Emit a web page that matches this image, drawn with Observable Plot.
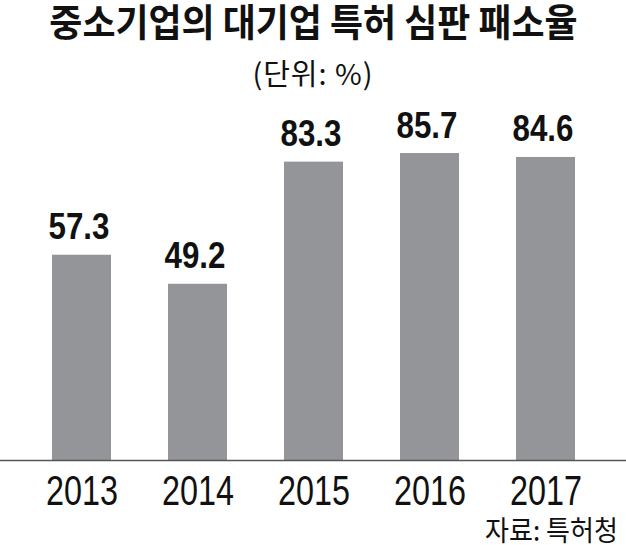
<!DOCTYPE html>
<html>
<head>
<meta charset="utf-8">
<script src="https://cdn.jsdelivr.net/npm/d3@7"></script>
<script src="https://cdn.jsdelivr.net/npm/@observablehq/plot@0.6"></script>
<style>
  html, body { margin: 0; padding: 0; background: #fff; }
  #wrap { position: relative; width: 626px; height: 545px; overflow: hidden; }
  .title { position: absolute; left: 0; top: -4px; width: 626px; height: 50px; text-align: center;
    font-family: "Noto Sans CJK KR", sans-serif; font-weight: 700; font-size: 38px; line-height: 48px; color: #111; white-space: nowrap; }
  .title span, .sub span, .cap span { display: inline-block; transform-origin: center; white-space: nowrap; }
  .sub { position: absolute; left: 0; top: 52px; width: 626px; height: 42px; text-align: center;
    font-family: "Noto Sans CJK KR", sans-serif; font-weight: 400; font-size: 29px; line-height: 40px; color: #111; letter-spacing: 1px; }
  #chart { position: absolute; left: 0; top: 100px; }
  .cap { position: absolute; right: 8px; top: 513px; height: 32px;
    font-family: "Noto Sans CJK KR", sans-serif; font-size: 28px; line-height: 32px; color: #111; white-space: nowrap; }
  .cap span { transform-origin: right center; }
</style>
</head>
<body>
<div id="wrap">
  <div class="title"><span style="transform: scaleX(0.945)">중소기업의 대기업 특허 심판 패소율</span></div>
  <div class="sub"><span>(단위: %)</span></div>
  <div id="chart"></div>
  <div class="cap"><span style="transform: scaleX(0.93)">자료: 특허청</span></div>
</div>
<script>
const years = ["2013", "2014", "2015", "2016", "2017"];
const rates = [57.3, 49.2, 83.3, 85.7, 84.6];

const table = years.map((year, i) => ({year, rate: rates[i]}));

const chart = Plot.plot({
  width: 626,
  height: 412,
  marginTop: 0,
  marginBottom: 52,
  marginLeft: 52,
  marginRight: 50,
  x: {domain: years, paddingInner: 0.49, paddingOuter: 0, label: null, axis: null},
  y: {domain: [0, 100.5], axis: null},
  style: {fontFamily: "'Liberation Sans', Arial, sans-serif", background: "white", color: "#111"},
  marks: [
    Plot.barY(table, {x: "year", y: "rate", fill: "#939598"}),
    Plot.ruleY([0], {stroke: "#555", strokeWidth: 1.5, insetLeft: -52, insetRight: -50}),
    Plot.text(table, {x: "year", y: "rate", text: d => d.rate.toFixed(1), dy: -16, lineAnchor: "bottom",
      fontSize: 37, fontWeight: "bold", fill: "#111"}),
    Plot.text(table, {x: "year", frameAnchor: "bottom", text: "year", dy: 15, lineAnchor: "top",
      fontSize: 42, fill: "#111"})
  ]
});
// condense the glyphs to match the reference's narrow typeface (centred by hand)
d3.select(chart).selectAll("text").each(function () {
  const s = this.textContent.trim();
  let len = null, shift = 0;
  if (/^\d{4}$/.test(s)) { len = 72; shift = 0; }
  else if (/^\d+\.\d$/.test(s)) { len = 61; shift = -3; }
  if (len) {
    this.setAttribute("textLength", len);
    this.setAttribute("lengthAdjust", "spacingAndGlyphs");
    this.setAttribute("text-anchor", "start");
    this.setAttribute("dx", -len / 2 + shift);
  }
});
document.getElementById("chart").appendChild(chart);
</script>
</body>
</html>
